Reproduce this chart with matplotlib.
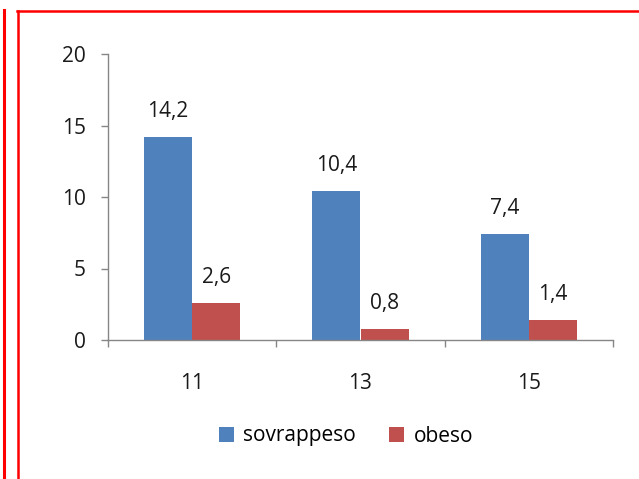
import matplotlib
matplotlib.use("Agg")
import matplotlib.pyplot as plt
from matplotlib.lines import Line2D
import numpy as np

plt.rcParams["font.family"] = ["Open Sans", "DejaVu Sans"]

ages = ["11", "13", "15"]
sovrappeso = [14.2, 10.4, 7.4]
obeso = [2.6, 0.8, 1.4]
series_names = ["sovrappeso", "obeso"]

blue = "#4F81BD"
red = "#C0504D"
grey = "#868686"
fs = 15

W, H = 639, 479
fig = plt.figure(figsize=(W / 100, H / 100), dpi=100)
ax = fig.add_axes([108 / W, (H - 340) / H, (613 - 108) / W, (340 - 54) / H])

x = np.arange(len(ages))
bw = 0.2857
b1 = ax.bar(x - bw / 2, sovrappeso, bw, color=blue, label=series_names[0])
b2 = ax.bar(x + bw / 2, obeso, bw, color=red, label=series_names[1])

def fmt(v):
    return f"{v:.1f}".replace(".", ",")

for bars, vals in ((b1, sovrappeso), (b2, obeso)):
    for rect, v in zip(bars, vals):
        ax.annotate(fmt(v), (rect.get_x() + rect.get_width() / 2, v),
                    xytext=(0, 20), textcoords="offset pixels",
                    ha="center", va="baseline", fontsize=fs, color="#1a1a1a")

ax.set_xlim(-0.5, 2.5)
ax.set_ylim(0, 20)
ax.set_yticks([0, 5, 10, 15, 20])
ax.set_xticks(x)
ax.set_xticklabels(ages)
ax.set_xticks([-0.5, 0.5, 1.5, 2.5], minor=True)

for s in ("top", "right"):
    ax.spines[s].set_visible(False)
for s in ("left", "bottom"):
    ax.spines[s].set_color(grey)
    ax.spines[s].set_linewidth(1)

ax.tick_params(axis="y", direction="out", length=5, width=1, color=grey,
               pad=11, labelsize=fs, labelcolor="#1a1a1a")
ax.tick_params(axis="x", which="major", length=0, pad=24,
               labelsize=fs, labelcolor="#1a1a1a")
ax.tick_params(axis="x", which="minor", direction="out", length=5, width=1, color=grey)

fig.legend(handles=[b1, b2], loc="center", bbox_to_anchor=(346 / W, (H - 436) / H),
           ncol=2, frameon=False, fontsize=fs, handlelength=0.72, handleheight=0.72,
           handletextpad=0.45, columnspacing=1.6, borderpad=0)

# red frame lines around the chart
red_line = "#FF0000"
fig.add_artist(Line2D([3.5 / W, 3.5 / W], [0, (H - 10) / H], color=red_line, lw=2.2))
fig.add_artist(Line2D([18 / W, 18 / W], [0, (H - 11) / H], color=red_line, lw=1.8))
fig.add_artist(Line2D([17 / W, 1], [(H - 11) / H, (H - 11) / H], color=red_line, lw=1.8))

fig.savefig("out.png", dpi=100)
